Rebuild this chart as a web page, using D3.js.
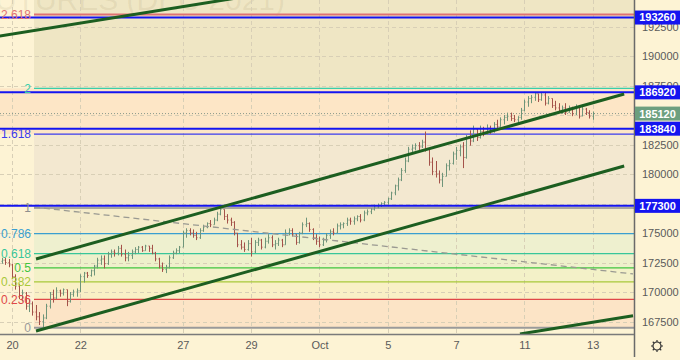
<!DOCTYPE html>
<html>
<head>
<meta charset="UTF-8" />
<title>RTS futures (DEC 2021)</title>
<script src="https://d3js.org/d3.v7.min.js"></script>
<style>
  * { margin: 0; padding: 0; box-sizing: border-box; }
  body { background: #fdf3d4; }
  svg { display: block; }
  text { font-family: "Liberation Sans Narrow", "Arial Narrow", "Liberation Sans", sans-serif; }
</style>
</head>
<body>
<svg id="chart" width="680" height="360"></svg>
<script>
// prices in thousands of points, hourly-ish slots, 10 per trading day
const tradingDays = ["Sep 17","Sep 20","Sep 21","Sep 22","Sep 23","Sep 24","Sep 27","Sep 28","Sep 29","Sep 30",
                     "Oct 1","Oct 4","Oct 5","Oct 6","Oct 7","Oct 8","Oct 11","Oct 12","Oct 13"];
const barsPerDay = 10;
const firstSlot = -3; // last three bars of Sep 17

// [open, high, low, close]
const ohlc = [
  [172.6,172.9,172.4,172.7],[172.7,172.9,172.3,172.5],[172.5,172.8,172.1,172.3],
  // Sep 20
  [172.3,172.4,171.1,171.3],[171.3,171.5,170.2,170.5],[170.5,170.7,169.4,169.7],[169.7,170.2,169.2,169.9],[169.9,170.0,168.5,168.8],
  [168.8,169.4,168.3,169.0],[169.0,169.2,168.0,168.3],[168.3,168.9,167.6,167.9],[167.9,168.3,167.2,167.5],[167.5,168.1,166.98,167.8],
  // Sep 21
  [167.8,169.0,167.7,168.8],[168.8,170.0,168.6,169.8],[169.8,170.2,169.1,169.5],[169.5,170.4,169.4,170.1],[170.1,170.2,169.6,169.9],
  [169.9,170.3,169.7,170.2],[170.2,170.2,168.8,169.2],[169.2,170.0,169.1,169.8],[169.8,170.2,169.6,170.0],[170.0,170.3,169.6,170.1],
  // Sep 22
  [170.1,171.5,170.0,171.3],[171.3,171.7,170.8,171.6],[171.6,171.7,171.2,171.4],[171.4,171.9,171.3,171.8],[171.8,172.3,171.4,172.2],
  [172.2,172.9,172.0,172.7],[172.7,173.1,172.3,172.8],[172.8,173.1,172.0,172.4],[172.4,173.4,172.3,173.2],[173.2,173.6,172.9,173.4],
  // Sep 23
  [173.4,173.6,173.0,173.3],[173.3,173.9,173.1,173.7],[173.7,174.0,173.0,173.2],[173.2,173.6,172.6,172.9],[172.9,173.4,172.6,173.1],
  [173.1,173.6,172.8,173.4],[173.4,173.8,173.2,173.6],[173.6,173.9,173.3,173.8],[173.8,173.9,173.4,173.5],[173.5,174.0,173.5,173.9],
  // Sep 24
  [173.9,173.9,173.4,173.7],[173.7,174.0,173.2,173.3],[173.3,173.4,172.6,172.8],[172.8,172.9,172.0,172.2],[172.2,172.5,171.7,171.9],
  [171.9,172.3,171.6,172.1],[172.1,173.1,172.0,172.9],[172.9,173.5,172.8,173.3],[173.3,173.7,173.2,173.5],[173.5,173.9,173.3,173.8],
  // Sep 27
  [173.8,175.2,173.8,175.0],[175.0,175.4,174.6,175.2],[175.2,175.4,174.8,175.0],[175.0,175.3,174.6,174.8],[174.8,175.1,174.4,174.6],
  [174.6,175.4,174.5,175.2],[175.2,175.7,175.1,175.5],[175.5,175.9,175.4,175.8],[175.8,176.1,175.5,175.7],[175.7,176.3,175.7,176.1],
  // Sep 28
  [176.1,176.8,176.0,176.6],[176.6,177.2,176.5,177.0],[177.0,177.0,176.1,176.4],[176.4,176.6,175.8,176.1],[176.1,176.3,175.6,175.9],
  [175.9,176.0,174.8,175.0],[175.0,175.0,173.8,174.0],[174.0,174.4,173.6,173.8],[173.8,174.2,173.4,173.6],[173.6,174.4,173.5,174.1],
  // Sep 29
  [174.1,174.6,173.0,173.4],[173.4,174.4,173.3,174.2],[174.2,174.6,173.9,174.4],[174.4,174.5,173.6,173.8],[173.8,174.6,173.7,174.3],
  [174.3,174.9,174.1,174.6],[174.6,174.8,173.8,174.0],[174.0,174.4,173.6,174.1],[174.1,174.6,173.9,174.4],[174.4,174.5,173.8,174.0],
  // Sep 30
  [174.0,175.3,174.0,175.0],[175.0,175.4,174.8,175.2],[175.2,175.4,174.7,174.9],[174.9,174.9,174.0,174.2],[174.2,175.1,174.1,175.0],
  [175.0,175.9,174.9,175.7],[175.7,176.3,175.5,175.8],[175.8,175.9,175.1,175.3],[175.3,175.4,174.4,174.6],[174.6,174.9,174.0,174.3],
  // Oct 1
  [174.3,174.7,173.8,174.0],[174.0,174.6,173.9,174.4],[174.4,175.0,174.2,174.8],[174.8,175.3,174.5,175.1],[175.1,175.4,174.8,175.0],
  [175.0,175.8,175.0,175.6],[175.6,175.9,175.3,175.7],[175.7,175.9,175.4,175.8],[175.8,176.3,175.6,176.1],[176.1,176.3,175.7,176.0],
  // Oct 4
  [176.0,176.4,175.7,176.2],[176.2,176.5,176.0,176.4],[176.4,176.6,175.9,176.1],[176.1,176.9,176.0,176.7],[176.7,177.0,176.5,176.8],
  [176.8,177.1,176.6,177.0],[177.0,177.4,176.9,177.2],[177.2,177.5,177.1,177.3],[177.3,177.6,177.2,177.5],[177.5,177.7,177.3,177.6],
  // Oct 5
  [177.6,178.0,177.4,177.9],[177.9,178.5,177.8,178.4],[178.4,179.1,178.2,179.0],[179.0,179.7,178.6,179.5],[179.5,180.5,179.4,180.3],
  [180.3,181.4,180.1,181.1],[181.1,182.3,181.0,182.1],[182.1,182.5,181.8,182.2],[182.2,182.6,182.0,182.4],[182.4,182.7,182.0,182.3],
  // Oct 6
  [182.3,182.9,182.2,182.7],[182.7,183.6,181.9,182.1],[182.1,182.2,180.7,181.0],[181.0,181.4,179.9,180.2],[180.2,181.1,179.7,180.0],
  [180.0,180.3,179.2,179.5],[179.5,180.1,178.9,179.8],[179.8,180.9,179.8,180.7],[180.7,181.2,180.3,180.9],[180.9,181.9,180.8,181.7],
  // Oct 7
  [181.7,182.3,181.2,182.0],[182.0,182.5,181.5,182.3],[182.3,182.7,180.5,181.4],[181.4,183.3,181.3,183.0],[183.0,183.7,182.4,182.8],
  [182.8,184.1,182.7,183.8],[183.8,183.9,182.8,183.1],[183.1,184.1,183.0,183.6],[183.6,184.0,183.2,183.4],[183.4,184.2,183.3,183.9],
  // Oct 8
  [183.9,184.1,183.4,183.6],[183.6,184.4,183.5,184.2],[184.2,184.6,183.7,184.0],[184.0,184.8,184.0,184.6],[184.6,185.0,184.2,184.8],
  [184.8,185.2,184.5,184.9],[184.9,185.2,184.5,184.7],[184.7,185.0,184.4,184.6],[184.6,184.9,184.3,184.8],[184.8,185.6,184.6,185.4],
  // Oct 11
  [185.4,186.3,185.3,186.1],[186.1,186.6,185.7,186.4],[186.4,186.7,186.0,186.5],[186.5,186.9,186.2,186.8],[186.8,186.8,186.1,186.3],
  [186.3,186.95,186.2,186.7],[186.7,186.95,185.8,186.0],[186.0,186.6,185.9,186.4],[186.4,186.4,185.6,185.8],[185.8,186.2,185.4,185.6],
  // Oct 12
  [185.6,186.0,185.2,185.4],[185.4,185.8,185.1,185.6],[185.6,186.0,185.0,185.2],[185.2,185.8,185.2,185.6],[185.6,185.7,184.9,185.1],
  [185.1,185.9,185.0,185.7],[185.7,185.7,184.7,184.9],[184.9,185.8,184.9,185.5],[185.5,185.6,185.0,185.2],[185.2,185.4,184.7,184.9],
  // Oct 13
  [184.9,185.3,184.6,185.12]
];

const lastPrice = 185.12;
const keyLevels = [193.26, 186.92, 183.84, 177.30];
// 177500 and 185000 sit under the level tags, so they are left out
const priceTicks = [167.5, 170, 172.5, 175, 180, 182.5, 187.5, 190, 192.5];
const tickDays = ["Sep 20","Sep 22","Sep 27","Sep 29","Oct 1","Oct 5","Oct 7","Oct 11","Oct 13"];
const tickLabels = ["20","22","27","29","Oct","5","7","11","13"];

// fibonacci retracement
const fibLow = 166.98, fibHigh = 177.12, fibStartSlot = 6.44;
const fibLevels = [0, 0.236, 0.382, 0.5, 0.618, 0.786, 1, 1.618, 2, 2.618];
const fibColors = ["#9a9a9a","#e04848","#a9c83a","#3fc43f","#38c69a","#3a9fd0","#8f8f8f","#3b3bee","#38ceaa","#e07272"];
const fibFills  = ["#fce4c6","#f9f0c6","#f3f1c8","#eef0cb","#eef0cf","#f5ecca","#f3e8d0","#fde6c6","#efe6c4"];

// trend lines [slot, price] -> [slot, price]
const trendStart = [[-10, 191.39], [7.03, 172.80], [7.03, 166.69], [148.7, 166.44]];
const trendEnd   = [[80, 195.58], [179.2, 186.78], [179.2, 180.68], [181.8, 167.99]];
const dashStart = [6.44, 177.20], dashEnd = [181.8, 171.53];

const W = 680, H = 360, plotW = 634, plotH = 334;
const svg = d3.select("#chart");

const slotOf = day => (tradingDays.indexOf(day) - 1) * barsPerDay;
const x = d3.scaleLinear().domain([-3.513, 182.08]).range([0, plotW]);
const y = d3.scaleLinear().domain([170, 190]).range([292, 56]);
const fibPrice = l => fibLow + (fibHigh - fibLow) * l;
const fmt = v => String(Math.round(v * 1000));

svg.append("rect").attr("width", W).attr("height", H).attr("fill", "#fdf3d4");

svg.append("clipPath").attr("id", "plot")
  .append("rect").attr("width", plotW).attr("height", plotH);
const plot = svg.append("g").attr("clip-path", "url(#plot)");

// fib bands (top band runs to the chart top, the 1.618-2 band spans the full width)
const fx0 = x(fibStartSlot);
fibFills.forEach((c, i) => {
  const yTop = i === fibFills.length - 1 ? 0 : y(fibPrice(fibLevels[i + 1]));
  const yBot = y(fibPrice(fibLevels[i]));
  const bx = fibLevels[i] === 1.618 ? 0 : fx0;
  plot.append("rect").attr("x", bx).attr("y", yTop)
    .attr("width", plotW - bx).attr("height", yBot - yTop).attr("fill", c);
});

// watermark
plot.append("text").attr("x", 285).attr("y", 9.5).attr("text-anchor", "end")
  .style("font-family", "'Liberation Sans', Arial, sans-serif")
  .attr("font-size", 30).attr("fill", "#7a6a40").attr("fill-opacity", 0.1)
  .text("RTS FUTURES (DEC 2021)");

// grid
const grid = plot.append("g").attr("stroke", "#d8cfb6").attr("stroke-dasharray", "4,3").attr("stroke-width", 1);
tickDays.forEach(d => {
  const gx = Math.round(x(slotOf(d))) + 0.5;
  grid.append("line").attr("x1", gx).attr("x2", gx).attr("y1", 0).attr("y2", plotH);
});
priceTicks.concat([177.5, 185]).forEach(p => {
  const gy = Math.round(y(p)) + 0.5;
  grid.append("line").attr("x1", 0).attr("x2", plotW).attr("y1", gy).attr("y2", gy);
});

// fib lines and labels
fibLevels.forEach((l, i) => {
  const ly = y(fibPrice(l));
  plot.append("line").attr("x1", fx0).attr("x2", plotW).attr("y1", ly).attr("y2", ly)
    .attr("stroke", fibColors[i]).attr("stroke-width", (l === 0 || l === 2.618) ? 2 : 1.3);
  svg.append("text").attr("x", fx0 - 3).attr("y", ly).attr("dy", "0.36em")
    .attr("text-anchor", "end").attr("font-size", 12).attr("fill", fibColors[i])
    .text(l);
});

// last price dotted line
plot.append("line").attr("x1", 0).attr("x2", plotW).attr("y1", y(lastPrice)).attr("y2", y(lastPrice))
  .attr("stroke", "#8a9a8a").attr("stroke-dasharray", "1,2").attr("stroke-width", 1);

// price bars
const bars = plot.append("g").attr("stroke-width", 1);
ohlc.forEach((b, i) => {
  const [o, h, l, c] = b;
  const bx = Math.round(x(firstSlot + i)) + 0.5;
  const col = c >= o ? "#6f957a" : "#a4524a";
  const g = bars.append("g").attr("stroke", col);
  g.append("line").attr("x1", bx).attr("x2", bx).attr("y1", y(h)).attr("y2", y(l));
  g.append("line").attr("x1", bx - 1).attr("x2", bx).attr("y1", y(o)).attr("y2", y(o));
  g.append("line").attr("x1", bx).attr("x2", bx + 1).attr("y1", y(c)).attr("y2", y(c));
});

// dashed diagonal
plot.append("line")
  .attr("x1", x(dashStart[0])).attr("y1", y(dashStart[1]))
  .attr("x2", x(dashEnd[0])).attr("y2", y(dashEnd[1]))
  .attr("stroke", "#9a9a92").attr("stroke-width", 1.3).attr("stroke-dasharray", "6,4");

// horizontal key levels
keyLevels.forEach(p => {
  plot.append("line").attr("x1", 0).attr("x2", plotW).attr("y1", y(p)).attr("y2", y(p))
    .attr("stroke", "#1414f0").attr("stroke-width", 2);
});

// trend lines
trendStart.forEach((s, i) => {
  const e = trendEnd[i];
  plot.append("line")
    .attr("x1", x(s[0])).attr("y1", y(s[1])).attr("x2", x(e[0])).attr("y2", y(e[1]))
    .attr("stroke", "#1c5e20").attr("stroke-width", 3).attr("stroke-linecap", "butt");
});

// axes frame
svg.append("line").attr("x1", plotW + 0.5).attr("x2", plotW + 0.5).attr("y1", 0).attr("y2", 357)
  .attr("stroke", "#6a6a6a").attr("stroke-width", 1.5);
svg.append("line").attr("x1", 0).attr("x2", plotW).attr("y1", plotH + 0.5).attr("y2", plotH + 0.5)
  .attr("stroke", "#7a7a7a").attr("stroke-width", 1.5);

// price axis
const yAxis = svg.append("g").attr("transform", `translate(${plotW},0)`)
  .call(d3.axisRight(y).tickValues(priceTicks).tickSize(0).tickPadding(8).tickFormat(fmt));
yAxis.select(".domain").remove();
yAxis.selectAll("text").attr("font-size", 11).attr("fill", "#5a5a5a")
  .style("font-family", "'Liberation Sans Narrow', 'Arial Narrow', sans-serif");

// time axis
const xAxis = svg.append("g").attr("transform", `translate(0,${plotH})`)
  .call(d3.axisBottom(x).tickValues(tickDays.map(slotOf)).tickSize(0).tickPadding(7)
    .tickFormat((d, i) => tickLabels[i]));
xAxis.select(".domain").remove();
xAxis.selectAll("text").attr("font-size", 11).attr("fill", "#5a5a5a")
  .style("font-family", "'Liberation Sans Narrow', 'Arial Narrow', sans-serif");

// price labels on axis
function axisTag(p, fill) {
  const ty = y(p);
  svg.append("rect").attr("x", plotW + 1).attr("y", ty - 7).attr("width", W - plotW - 1).attr("height", 14)
    .attr("fill", fill);
  svg.append("text").attr("x", (plotW + W) / 2 + 0.5).attr("y", ty).attr("dy", "0.36em")
    .attr("text-anchor", "middle").attr("font-size", 11).attr("font-weight", "bold")
    .attr("fill", "#ffffff").text(fmt(p));
}
keyLevels.forEach(p => axisTag(p, "#1414f0"));
axisTag(lastPrice, "#6c9f7e");

// settings gear
const gear = svg.append("g").attr("transform", "translate(657,346)")
  .attr("stroke", "#333").attr("fill", "none").attr("stroke-width", 1.2);
gear.append("circle").attr("r", 4);
d3.range(8).forEach(k => {
  const a = k * Math.PI / 4;
  gear.append("line").attr("x1", 4 * Math.cos(a)).attr("y1", 4 * Math.sin(a))
    .attr("x2", 6 * Math.cos(a)).attr("y2", 6 * Math.sin(a));
});
</script>
</body>
</html>
